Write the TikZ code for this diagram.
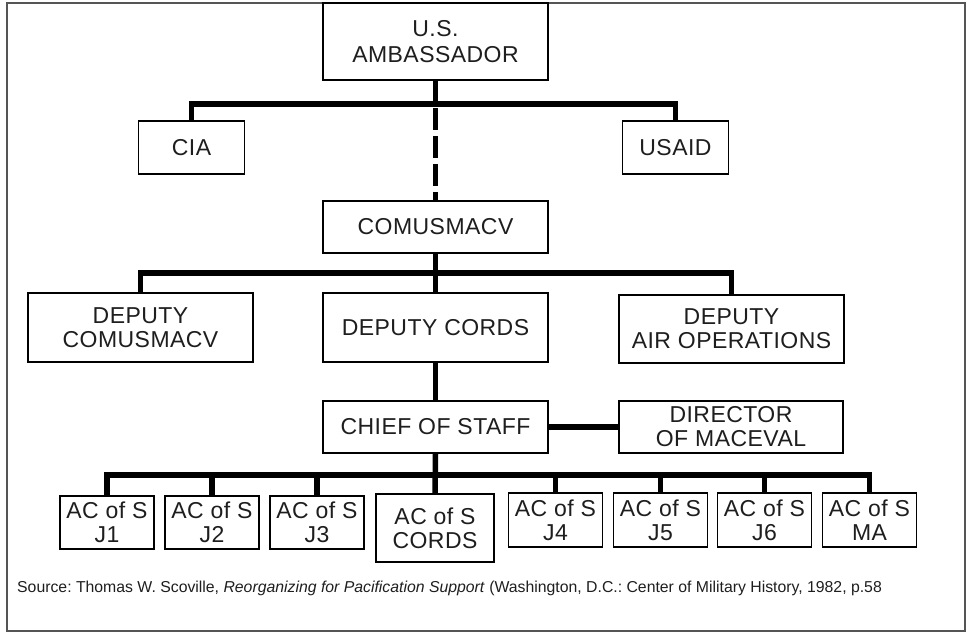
\documentclass[tikz,border=0pt]{standalone}
\usepackage{fontspec}
\setmainfont{Liberation Sans}
\newfontfamily\boxfont[LetterSpace=2]{Liberation Sans}
\usepackage{tikz}
\usetikzlibrary{positioning,calc}
\definecolor{frameGray}{RGB}{85, 85, 85}
\definecolor{inkBlack}{RGB}{30, 30, 30}
\frenchspacing

\begin{document}
\begin{tikzpicture}[x=1pt,y=-1pt,
                unit/.style={draw=black,line width=1.6pt,fill=white,inner sep=0pt,
                             minimum width=225pt,minimum height=52pt,align=center,
                             text=inkBlack,font=\boxfont\fontsize{23}{24}\selectfont},
                staff/.style={unit,minimum width=94pt,minimum height=53pt},
                link/.style={draw=black,line width=5.5pt}
            ]
                \useasboundingbox (0,0) rectangle (967,633);
                \draw[frameGray,line width=2pt] (7,3) rectangle (965,631);

                \node[unit,minimum height=77pt,font=\boxfont\fontsize{23}{26}\selectfont] (amb) at (435.5,41.5) {U.S.\\AMBASSADOR};
                \node[unit,minimum width=106pt,minimum height=53pt] (cia) at (191.5,147.5) {CIA};
                \node[unit,minimum width=106pt,minimum height=53pt] (usaid) at (675.5,147.5) {USAID};
                \node[unit] (comus) at (435.5,227) {COMUSMACV};
                \node[unit,minimum height=69pt] (depcomus) at (140.5,327.5) {DEPUTY\\COMUSMACV};
                \node[unit,minimum height=69pt] (depcords) at (435.5,327.5) {DEPUTY CORDS};
                \node[unit,minimum height=68pt] (depair) at (731.5,329) {DEPUTY\\AIR OPERATIONS};
                \node[unit] (chief) at (435.5,427) {CHIEF OF STAFF};
                \node[unit,minimum width=224pt] (maceval) at (731,427) {DIRECTOR\\OF MACEVAL};

                \node[staff] (jone) at (107,522.5) {AC of S\\J1};
                \node[staff] (jtwo) at (212,522.5) {AC of S\\J2};
                \node[staff] (jthree) at (317,522.5) {AC of S\\J3};
                \node[staff,minimum width=118pt,minimum height=68pt] (cords) at (435,528) {AC of S\\CORDS};
                \node[staff,minimum height=54pt] (jfour) at (555.5,520) {AC of S\\J4};
                \node[staff,minimum height=54pt] (jfive) at (660.5,520) {AC of S\\J5};
                \node[staff,minimum height=54pt] (jsix) at (764.5,520) {AC of S\\J6};
                \node[staff,minimum height=54pt] (ma) at (869.5,520) {AC of S\\MA};

                \coordinate (top) at (435.5,104);
                \coordinate (mid) at (435.5,273);
                \coordinate (low) at (435.5,475);

                \draw[link] (amb.south) -- (top);
                \draw[link] (cia.north) |- (top) -| (usaid.north);
                \draw[link,dash pattern=on 22pt off 6pt,dash phase=-4pt] (top) -- (comus.north);

                \draw[link] (comus.south) -- (depcords.north);
                \draw[link] (depcomus.north) |- (mid) -| (depair.north);

                \draw[link] (depcords.south) -- (chief.north);
                \draw[link] (chief.east) -- (maceval.west);

                \draw[link] (chief.south) -- (cords.north);
                \draw[link] (jone.north) |- (low) -| (ma.north);
                \draw[link] (jtwo.north) -- (jtwo.north |- low);
                \draw[link] (jthree.north) -- (jthree.north |- low);
                \draw[link] (jfour.north) -- (jfour.north |- low);
                \draw[link] (jfive.north) -- (jfive.north |- low);
                \draw[link] (jsix.north) -- (jsix.north |- low);

                \node[anchor=base west,inner sep=0pt,text=inkBlack,font=\fontsize{15.8}{18}\selectfont] (source) at (17,592)
                    {Source: Thomas W. Scoville, \textit{Reorganizing for Pacification Support} (Washington, D.C.: Center of Military History, 1982, p.58};
            \end{tikzpicture}
\end{document}
